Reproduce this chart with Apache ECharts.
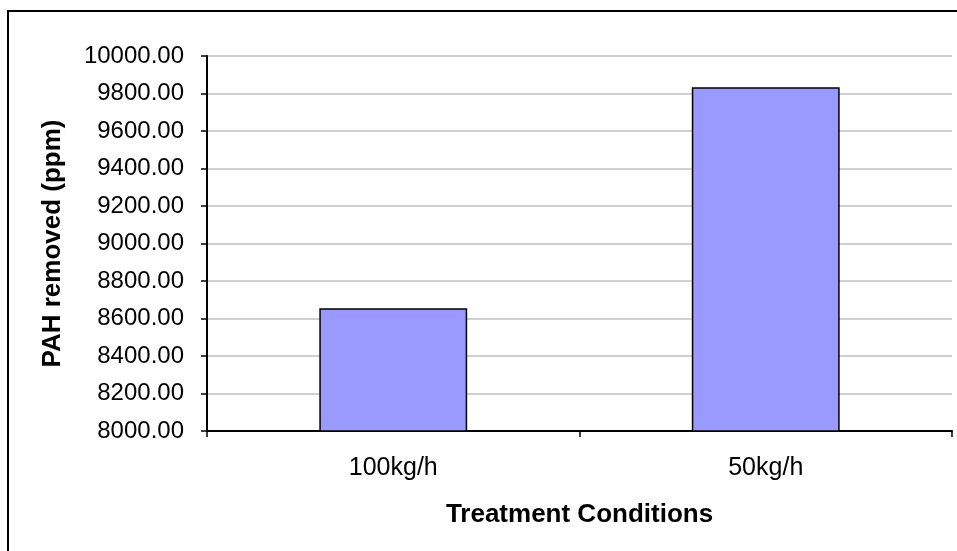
<!DOCTYPE html>
<html>
<head>
<meta charset="utf-8">
<script src="https://cdn.jsdelivr.net/npm/echarts@6/dist/echarts.min.js"></script>
<style>
  html, body { margin: 0; padding: 0; background: #fff; }
  #chart { width: 957px; height: 551px; }
</style>
</head>
<body>
<div id="chart"></div>
<script>
// Treatment conditions and PAH removal values (ppm)
const categories = ['100kg/h', '50kg/h'];
const pahRemoved = [8655, 9833];
const yMin = 8000;
const yMax = 10000;
const yStep = 200;

const FONT = 'Liberation Sans, Arial, sans-serif';
const chart = echarts.init(document.getElementById('chart'), null, { renderer: 'canvas' });

chart.setOption({
  animation: false,
  backgroundColor: '#ffffff',
  textStyle: { fontFamily: FONT },
  graphic: [{
    type: 'rect',
    shape: { x: 8, y: 11, width: 1000, height: 600 },
    style: { fill: 'none', stroke: '#000', lineWidth: 2 },
    silent: true,
    z: -1
  }],
  grid: { left: 207, right: 5, top: 56, bottom: 120, containLabel: false },
  xAxis: {
    type: 'category',
    data: categories,
    name: 'Treatment Conditions',
    nameLocation: 'middle',
    nameGap: 71,
    nameTextStyle: { fontSize: 26, fontWeight: 'bold', color: '#000', fontFamily: FONT },
    axisLine: { lineStyle: { color: '#000', width: 2 } },
    axisTick: { show: true, length: 6, lineStyle: { color: '#000', width: 1.5 } },
    axisLabel: { fontSize: 25, color: '#000', margin: 25, fontFamily: FONT },
    splitLine: { show: false }
  },
  yAxis: {
    type: 'value',
    min: yMin,
    max: yMax,
    interval: yStep,
    name: 'PAH removed (ppm)',
    nameLocation: 'middle',
    nameGap: 141,
    nameRotate: 90,
    nameTextStyle: { fontSize: 26, fontWeight: 'bold', color: '#000', fontFamily: FONT },
    axisLine: { show: true, lineStyle: { color: '#000', width: 2 } },
    axisTick: { show: true, length: 6, lineStyle: { color: '#000', width: 1.5 } },
    axisLabel: {
      fontSize: 24,
      color: '#000',
      margin: 23,
      fontFamily: FONT,
      formatter: v => v.toFixed(2)
    },
    splitLine: { show: true, lineStyle: { color: '#c0c0c0', width: 1.5 } }
  },
  series: [{
    type: 'bar',
    data: pahRemoved,
    barWidth: '39.7%',
    itemStyle: { color: '#9999ff', borderColor: '#000', borderWidth: 1.5 }
  }]
});
</script>
</body>
</html>
